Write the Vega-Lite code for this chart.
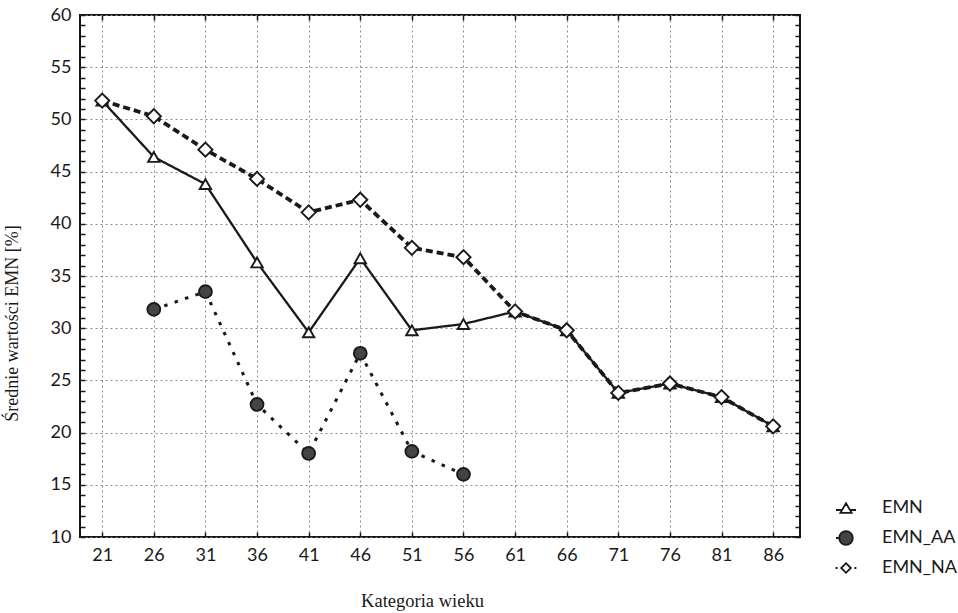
{
  "$schema": "https://vega.github.io/schema/vega-lite/v6.json",
  "width": 720,
  "height": 522,
  "autosize": {"type": "none"},
  "padding": {"left": 80, "top": 15, "right": 158, "bottom": 76},
  "background": "white",
  "config": {
    "view": {"stroke": "#151515", "strokeWidth": 2},
    "font": "Lato",
    "axis": {"labelFont": "Lato", "labelFontSize": 18, "labelColor": "#1a1a1a", "domain": false, "tickColor": "#1a1a1a", "tickWidth": 1.5}
  },
  "datasets": {
    "d": [
      {"age": 21, "series": "EMN", "value": 51.8},
      {"age": 26, "series": "EMN", "value": 46.4},
      {"age": 31, "series": "EMN", "value": 43.8},
      {"age": 36, "series": "EMN", "value": 36.3},
      {"age": 41, "series": "EMN", "value": 29.6},
      {"age": 46, "series": "EMN", "value": 36.7},
      {"age": 51, "series": "EMN", "value": 29.8},
      {"age": 56, "series": "EMN", "value": 30.4},
      {"age": 61, "series": "EMN", "value": 31.6},
      {"age": 66, "series": "EMN", "value": 29.8},
      {"age": 71, "series": "EMN", "value": 23.8},
      {"age": 76, "series": "EMN", "value": 24.7},
      {"age": 81, "series": "EMN", "value": 23.4},
      {"age": 86, "series": "EMN", "value": 20.6},
      {"age": 26, "series": "EMN_AA", "value": 31.8},
      {"age": 31, "series": "EMN_AA", "value": 33.5},
      {"age": 36, "series": "EMN_AA", "value": 22.7},
      {"age": 41, "series": "EMN_AA", "value": 18.0},
      {"age": 46, "series": "EMN_AA", "value": 27.6},
      {"age": 51, "series": "EMN_AA", "value": 18.2},
      {"age": 56, "series": "EMN_AA", "value": 16.0},
      {"age": 21, "series": "EMN_NA", "value": 51.8},
      {"age": 26, "series": "EMN_NA", "value": 50.3},
      {"age": 31, "series": "EMN_NA", "value": 47.1},
      {"age": 36, "series": "EMN_NA", "value": 44.3},
      {"age": 41, "series": "EMN_NA", "value": 41.1},
      {"age": 46, "series": "EMN_NA", "value": 42.3},
      {"age": 51, "series": "EMN_NA", "value": 37.7},
      {"age": 56, "series": "EMN_NA", "value": 36.8},
      {"age": 61, "series": "EMN_NA", "value": 31.6},
      {"age": 66, "series": "EMN_NA", "value": 29.8},
      {"age": 71, "series": "EMN_NA", "value": 23.8},
      {"age": 76, "series": "EMN_NA", "value": 24.7},
      {"age": 81, "series": "EMN_NA", "value": 23.4},
      {"age": 86, "series": "EMN_NA", "value": 20.6}
    ]
  },
  "data": {"name": "d"},
  "layer": [
    {
      "transform": [{"filter": "datum.series !== 'EMN'"}],
      "mark": {"type": "line", "color": "#1a1a1a", "strokeCap": "butt"},
      "encoding": {
        "x": {
          "field": "age", "type": "quantitative",
          "scale": {"domain": [18.85, 88.6], "nice": false, "zero": false},
          "axis": {
            "values": [21, 26, 31, 36, 41, 46, 51, 56, 61, 66, 71, 76, 81, 86],
            "grid": true, "gridDash": [2, 3], "gridColor": "#8a8a8a", "gridWidth": 1,
            "tickSize": -5, "labelPadding": 14,
            "title": "Kategoria wieku", "titleFont": "Liberation Serif", "titleFontSize": 18.5, "titleFontWeight": "normal", "titleColor": "#1a1a1a",
            "titleX": 342, "titleY": 63, "titleBaseline": "middle", "titleAnchor": null
          }
        },
        "y": {
          "field": "value", "type": "quantitative",
          "scale": {"domain": [10, 60], "nice": false, "zero": false},
          "axis": {
            "values": [10,11,12,13,14,15,16,17,18,19,20,21,22,23,24,25,26,27,28,29,30,31,32,33,34,35,36,37,38,39,40,41,42,43,44,45,46,47,48,49,50,51,52,53,54,55,56,57,58,59,60],
            "labelExpr": "datum.value % 5 === 0 ? datum.label : ''",
            "grid": true, "gridDash": [2, 3], "gridColor": "#8a8a8a", "gridWidth": 1,
            "gridOpacity": {"condition": {"test": "datum.value % 5 === 0", "value": 1}, "value": 0},
            "tickSize": -5, "labelPadding": 14,
            "title": "Średnie wartości EMN [%]", "titleFont": "Liberation Serif", "titleFontSize": 18, "titleFontWeight": "normal", "titleColor": "#1a1a1a",
            "titleX": -68, "titleY": 308, "titleBaseline": "middle", "titleAnchor": null, "titleAngle": 270
          }
        },
        "detail": {"field": "series", "type": "nominal"},
        "strokeDash": {"field": "series", "type": "nominal", "scale": {"domain": ["EMN", "EMN_AA", "EMN_NA"], "range": [[1, 0], [3.5, 7.5], [7, 4]]}, "legend": null},
        "strokeWidth": {"field": "series", "type": "nominal", "scale": {"domain": ["EMN", "EMN_AA", "EMN_NA"], "range": [2.3, 3.8, 2.8]}, "legend": null}
      }
    },
    {
      "transform": [{"filter": "datum.series === 'EMN'"}],
      "mark": {"type": "line", "color": "#1a1a1a", "strokeCap": "butt"},
      "encoding": {
        "x": {"field": "age", "type": "quantitative", "axis": null},
        "y": {"field": "value", "type": "quantitative", "axis": null},
        "strokeDash": {"field": "series", "type": "nominal", "legend": null},
        "strokeWidth": {"field": "series", "type": "nominal", "legend": null}
      }
    },
    {
      "mark": {"type": "point", "filled": true, "opacity": 1, "stroke": "#1a1a1a", "strokeWidth": 1.9},
      "encoding": {
        "x": {"field": "age", "type": "quantitative", "axis": {"orient": "top", "values": [21, 26, 31, 36, 41, 46, 51, 56, 61, 66, 71, 76, 81, 86], "labels": false, "grid": false, "tickSize": -5, "title": null}},
        "y": {"field": "value", "type": "quantitative", "axis": {"orient": "right", "values": [10,11,12,13,14,15,16,17,18,19,20,21,22,23,24,25,26,27,28,29,30,31,32,33,34,35,36,37,38,39,40,41,42,43,44,45,46,47,48,49,50,51,52,53,54,55,56,57,58,59,60], "labels": false, "grid": false, "tickSize": -5, "title": null}},
        "shape": {"field": "series", "type": "nominal", "scale": {"domain": ["EMN", "EMN_AA", "EMN_NA"], "range": ["triangle-up", "circle", "diamond"]}, "legend": null},
        "fill": {"field": "series", "type": "nominal", "scale": {"domain": ["EMN", "EMN_AA", "EMN_NA"], "range": ["white", "#444444", "white"]}, "legend": null},
        "size": {"field": "series", "type": "nominal", "scale": {"domain": ["EMN", "EMN_AA", "EMN_NA"], "range": [130, 200, 85]}, "legend": null}
      }
    },
    {
      "transform": [{"filter": "false"}],
      "mark": {"type": "point", "filled": true, "opacity": 1, "strokeWidth": 1.8, "size": 256},
      "encoding": {
        "shape": {
          "field": "series", "type": "nominal",
          "scale": {"domain": ["EMN", "EMN_AA", "EMN_NA"], "range": [
            "M-1.25,0.25H-0.5M0.5,0.25H1.25M0,-0.6L0.7,0.6H-0.7Z",
            "M-1.25,0H-0.95M0.85,0A0.85,0.85 0 1 1 -0.85,0A0.85,0.85 0 1 1 0.85,0Z",
            "M-1.3,0H-1.05M1.05,0H1.3M0,-0.6L0.6,0L0,0.6L-0.6,0Z"
          ]},
          "legend": {
            "orient": "none", "legendX": 757, "legendY": 484, "title": null, "padding": 0,
            "labelFont": "Lato", "labelFontSize": 18, "labelColor": "#1a1a1a", "labelOffset": 27,
            "symbolSize": 256, "symbolStrokeWidth": 1.8, "rowPadding": 10
          }
        },
        "fill": {
          "field": "series", "type": "nominal",
          "scale": {"domain": ["EMN", "EMN_AA", "EMN_NA"], "range": ["white", "#444444", "white"]}
        },
        "stroke": {
          "field": "series", "type": "nominal",
          "scale": {"domain": ["EMN", "EMN_AA", "EMN_NA"], "range": ["#1a1a1a", "#1a1a1a", "#1a1a1a"]}
        }
      }
    }
  ],
  "resolve": {
    "scale": {"shape": "independent", "fill": "independent", "stroke": "independent"},
    "axis": {"x": "independent", "y": "independent"}
  }
}
